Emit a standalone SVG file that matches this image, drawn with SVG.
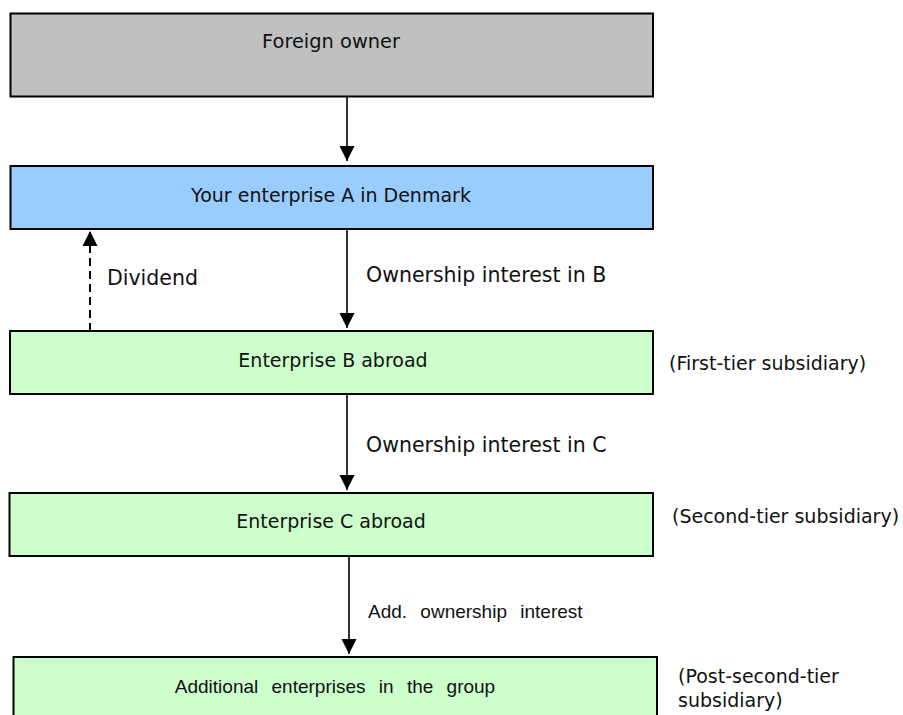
<svg xmlns="http://www.w3.org/2000/svg" width="903" height="715" viewBox="0 0 903 715">
<style>
.box{stroke:#000;stroke-width:2}
.t{font-family:"DejaVu Sans",Verdana,sans-serif;font-size:19px;fill:#111}
.tl{font-family:"DejaVu Sans",Verdana,sans-serif;font-size:20.5px;fill:#111}
.tc{text-anchor:middle}
.ta{font-family:"Liberation Sans",Arial,sans-serif;font-size:19px;fill:#111;word-spacing:8px}
.ln{stroke:#000;stroke-width:1.6;fill:none}
.dash{stroke:#000;stroke-width:2;fill:none;stroke-dasharray:8 5}
</style>
<defs>
<marker id="ah" markerUnits="userSpaceOnUse" markerWidth="16" markerHeight="16" viewBox="0 0 16 16" refX="15" refY="8" orient="auto">
<path d="M0,0.5 L15,8 L0,15.5 Z" fill="#000"/>
</marker>
</defs>
<rect width="903" height="715" fill="#fff"/>
<g id="connectors">
<line class="ln" x1="347" y1="97" x2="347" y2="161" marker-end="url(#ah)"/>
<line class="ln" x1="347" y1="229" x2="347" y2="328" marker-end="url(#ah)"/>
<line class="dash" x1="90" y1="331" x2="90" y2="231" marker-end="url(#ah)"/>
<line class="ln" x1="347" y1="394" x2="347" y2="490" marker-end="url(#ah)"/>
<line class="ln" x1="349" y1="556" x2="349" y2="654" marker-end="url(#ah)"/>
<text class="tl" x="107" y="285">Dividend</text>
<text class="tl" x="366" y="282">Ownership interest in B</text>
<text class="tl" x="366" y="452">Ownership interest in C</text>
<text class="ta" x="368" y="618">Add. ownership interest</text>
</g>
<g id="foreign-owner">
<rect class="box" x="10.5" y="13.5" width="642.5" height="83" fill="#C0C0C0"/>
<text class="t tc" x="331" y="48" style="font-size:19.4px">Foreign owner</text>
</g>
<g id="enterprise-a">
<rect class="box" x="10.5" y="166" width="642.5" height="63" fill="#99CCFF"/>
<text class="t tc" x="331" y="202">Your enterprise A in Denmark</text>
</g>
<g id="enterprise-b">
<rect class="box" x="10" y="331" width="643" height="63" fill="#CCFFCC"/>
<text class="t tc" x="333" y="367">Enterprise B abroad</text>
<text class="t" x="669" y="370">(First-tier subsidiary)</text>
</g>
<g id="enterprise-c">
<rect class="box" x="9.5" y="493" width="643.5" height="63" fill="#CCFFCC"/>
<text class="t tc" x="331" y="528">Enterprise C abroad</text>
<text class="t" x="672" y="523">(Second-tier subsidiary)</text>
</g>
<g id="additional">
<rect class="box" x="13.5" y="657" width="643.5" height="70" fill="#CCFFCC"/>
<text class="ta tc" x="335" y="693">Additional enterprises in the group</text>
<text class="t" x="678" y="683">(Post-second-tier</text>
<text class="t" x="678" y="707">subsidiary)</text>
</g>
</svg>
